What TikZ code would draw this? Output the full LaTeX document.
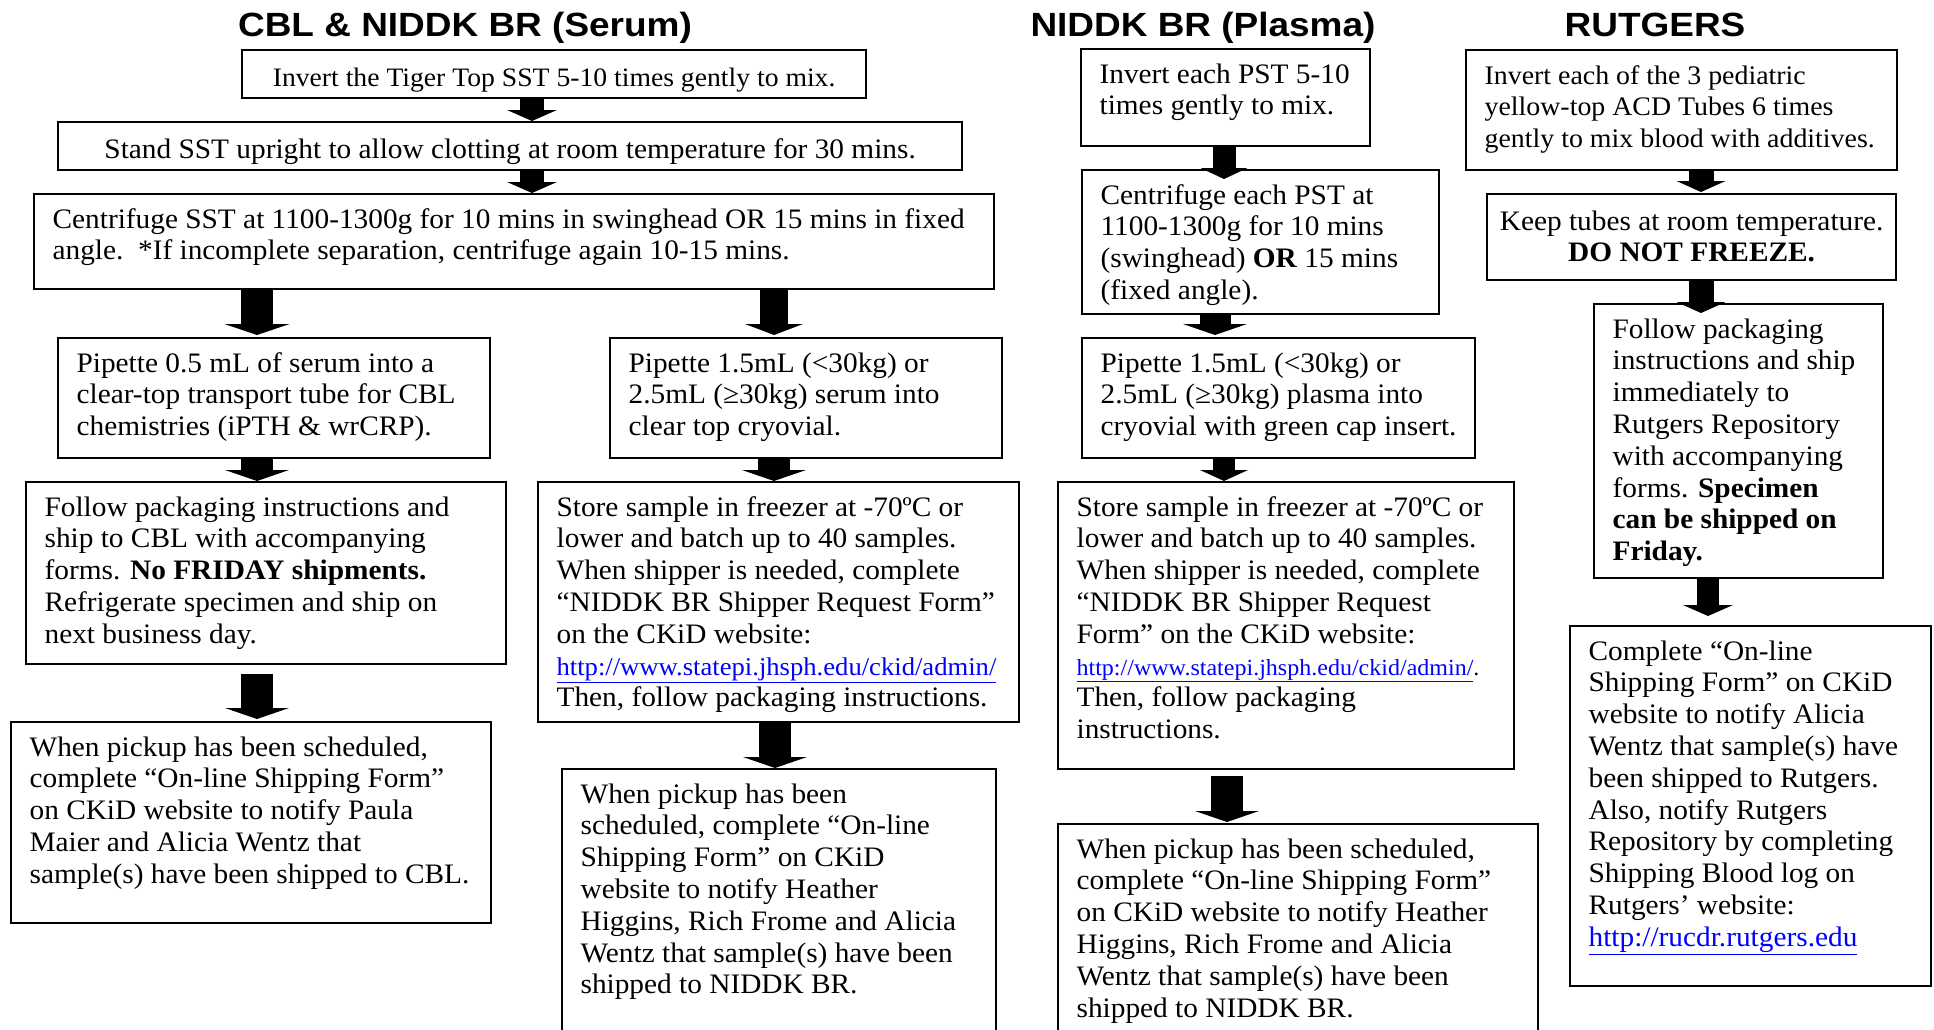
\documentclass[tikz,border=0pt]{standalone}
\usepackage{fontspec}
\setmainfont[FakeStretch=1.04]{Liberation Serif}
\newfontfamily\titlefont[FakeStretch=1.1]{Liberation Sans}
\usetikzlibrary{arrows.meta}

% box text: width, height, lines (left aligned, first baseline 34pt down)
\newcommand{\steptext}[3]{\parbox[t][#2][t]{#1}{\leftskip=18.5pt \rightskip=-30pt plus 1fil \rule{0pt}{34pt}#3}}
\newcommand{\steptextc}[3]{\parbox[t][#2][t]{#1}{\centering\rule{0pt}{36pt}#3}}
\newcommand{\weblink}[1]{\textcolor{blue}{\underline{#1}}}

\begin{document}
\begin{tikzpicture}[
	x=1pt, y=-1pt,
	stepbox/.style={draw, line width=2.2pt, anchor=north west, inner sep=0pt},
	heading/.style={anchor=base, font=\titlefont\fontsize{33.6}{40}\selectfont\bfseries},
	flowarrow/.style 2 args={line width=#1, -{Triangle[length=11pt, width=#2, line width'=0pt]}},
	every node/.append style={font=\fontsize{28.2}{31.8}\selectfont}
	]
	
	\useasboundingbox (0,0) rectangle (1934,1029);
	\clip (0,0) rectangle (1934,1029);
	
	% headings
	\node[heading] (hserum) at (465,36) {CBL \& NIDDK BR (Serum)};
	\node[heading] (hplasma) at (1203,36) {NIDDK BR (Plasma)};
	\node[heading] (hrutgers) at (1655,36) {RUTGERS};
	
	% Serum column
	\node[stepbox, font=\fontsize{26.6}{31.8}\selectfont] (b1) at (241,49)
		{\steptextc{624pt}{48pt}{Invert the Tiger Top SST 5-10 times gently to mix.}};
	\node[stepbox] (b2) at (57,121)
		{\steptextc{904pt}{48pt}{Stand SST upright to allow clotting at room temperature for 30 mins.}};
	\node[stepbox] (b3) at (33,193)
		{\steptext{960pt}{95pt}{Centrifuge SST at 1100-1300g for 10 mins in swinghead OR 15 mins in fixed\\
		angle.\ \ *If incomplete separation, centrifuge again 10-15 mins.}};
	\node[stepbox] (b4a) at (57,337)
		{\steptext{432pt}{120pt}{Pipette 0.5 mL of serum into a\\
		clear-top transport tube for CBL\\
		chemistries (iPTH \& wrCRP).}};
	\node[stepbox] (b4b) at (609,337)
		{\steptext{392pt}{120pt}{Pipette 1.5mL (<30kg) or\\
		2.5mL (≥30kg) serum into\\
		clear top cryovial.}};
	\node[stepbox] (b5a) at (25,481)
		{\steptext{480pt}{182pt}{Follow packaging instructions and\\
		ship to CBL with accompanying\\
		forms. \textbf{No FRIDAY shipments.}\\
		Refrigerate specimen and ship on\\
		next business day.}};
	\node[stepbox] (b5b) at (537,481)
		{\steptext{481pt}{240pt}{Store sample in freezer at -70ºC or\\
		lower and batch up to 40 samples.\\
		When shipper is needed, complete\\
		“NIDDK BR Shipper Request Form”\\
		on the CKiD website:\\
		{\fontsize{25.6}{31.8}\selectfont\weblink{http://www.statepi.jhsph.edu/ckid/admin/}}\\
		Then, follow packaging instructions.}};
	\node[stepbox] (b6a) at (10,721)
		{\steptext{480pt}{201pt}{When pickup has been scheduled,\\
		complete “On-line Shipping Form”\\
		on CKiD website to notify Paula\\
		Maier and Alicia Wentz that\\
		sample(s) have been shipped to CBL.}};
	\node[stepbox] (b6b) at (561,768)
		{\steptext{434pt}{290pt}{When pickup has been\\
		scheduled, complete “On-line\\
		Shipping Form” on CKiD\\
		website to notify Heather\\
		Higgins, Rich Frome and Alicia\\
		Wentz that sample(s) have been\\
		shipped to NIDDK BR.}};
	
	% Plasma column
	\node[stepbox] (p1) at (1080,48)
		{\steptext{289pt}{97pt}{Invert each PST 5-10\\
		times gently to mix.}};
	\node[stepbox] (p2) at (1081,169)
		{\steptext{357pt}{144pt}{Centrifuge each PST at\\
		1100-1300g for 10 mins\\
		(swinghead) \textbf{OR} 15 mins\\
		(fixed angle).}};
	\node[stepbox] (p3) at (1081,337)
		{\steptext{393pt}{120pt}{Pipette 1.5mL (<30kg) or\\
		2.5mL (≥30kg) plasma into\\
		cryovial with green cap insert.}};
	\node[stepbox] (p4) at (1057,481)
		{\steptext{456pt}{287pt}{Store sample in freezer at -70ºC or\\
		lower and batch up to 40 samples.\\
		When shipper is needed, complete\\
		“NIDDK BR Shipper Request\\
		Form” on the CKiD website:\\
		{\fontsize{23.1}{31.8}\selectfont\weblink{http://www.statepi.jhsph.edu/ckid/admin/}.}\\
		Then, follow packaging\\
		instructions.}};
	\node[stepbox] (p5) at (1057,823)
		{\steptext{480pt}{250pt}{When pickup has been scheduled,\\
		complete “On-line Shipping Form”\\
		on CKiD website to notify Heather\\
		Higgins, Rich Frome and Alicia\\
		Wentz that sample(s) have been\\
		shipped to NIDDK BR.}};
	
	% Rutgers column
	\node[stepbox, font=\fontsize{26.8}{31.8}\selectfont] (r1) at (1465,49)
		{\steptext{431pt}{120pt}{Invert each of the 3 pediatric\\
		yellow-top ACD Tubes 6 times\\
		gently to mix blood with additives.}};
	\node[stepbox] (r2) at (1486,193)
		{\steptextc{409pt}{86pt}{Keep tubes at room temperature.\\
		\textbf{DO NOT FREEZE.}}};
	\node[stepbox] (r3) at (1593,303)
		{\steptext{289pt}{274pt}{Follow packaging\\
		instructions and ship\\
		immediately to\\
		Rutgers Repository\\
		with accompanying\\
		forms. \textbf{Specimen}\\
		\textbf{can be shipped on}\\
		\textbf{Friday.}}};
	\node[stepbox] (r4) at (1569,625)
		{\steptext{361pt}{360pt}{Complete “On-line\\
		Shipping Form” on CKiD\\
		website to notify Alicia\\
		Wentz that sample(s) have\\
		been shipped to Rutgers.\\
		Also, notify Rutgers\\
		Repository by completing\\
		Shipping Blood log on\\
		Rutgers’ website:\\
		\weblink{http://rucdr.rutgers.edu}}};
	
	% block arrows: from/to/x/shaft/head/start shift/end shift
	\foreach \src/\dst/\ax/\sw/\hw/\so/\eo in {
		b1/b2/532/24/50/0pt/0pt,
		b2/b3/532/24/50/0pt/0pt,
		b3/b4a/257/32/65/0pt/2pt,
		b3/b4b/774/28/58/0pt/2pt,
		b4a/b5a/257/32/64/0pt/0pt,
		b4b/b5b/774/32/64/0pt/0pt,
		b5a/b6a/257/32/64/-9pt/2pt,
		b5b/b6b/775/32/64/0pt/0pt,
		p1/p2/1224/23/47/0pt/-10pt,
		p2/p3/1215/31/64/0pt/2pt,
		p3/p4/1224/22/48/0pt/0pt,
		p4/p5/1227/32/64/-6pt/1pt,
		r1/r2/1701/25/49/0pt/1pt,
		r2/r3/1701/25/49/0pt/-10pt,
		r3/r4/1708/22/50/0pt/9pt}
	{
		\coordinate (ax) at (\ax,0);
		\draw[flowarrow={\sw pt}{\hw pt}] ([yshift=\so]\src.south -| ax) -- ([yshift=\eo]\dst.north -| ax);
	}
	
\end{tikzpicture}
\end{document}
